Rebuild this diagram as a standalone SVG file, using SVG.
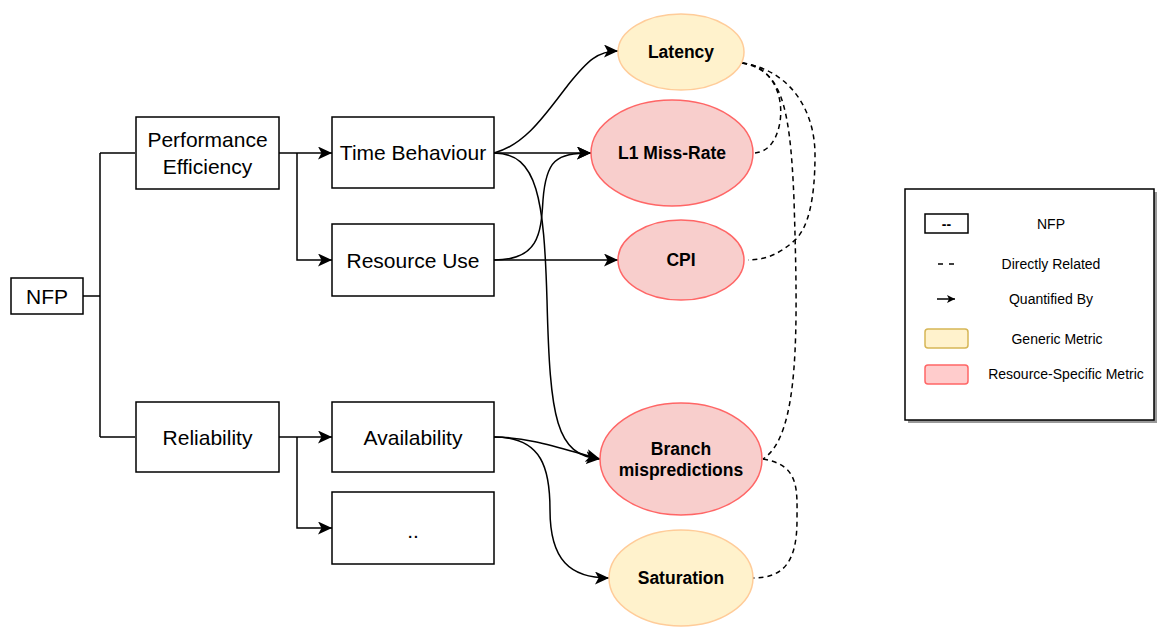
<svg xmlns="http://www.w3.org/2000/svg" width="1159" height="628" viewBox="0 0 1159 628">
<style>
.box{fill:#fff;stroke:#000;stroke-width:1.5}
.t{font-family:"Liberation Sans",Arial,sans-serif;font-size:21px;fill:#000;text-anchor:middle;dominant-baseline:central}
.mt{font-family:"Liberation Sans",Arial,sans-serif;font-size:17.5px;font-weight:bold;fill:#000;text-anchor:middle;dominant-baseline:central}
.lt{font-family:"Liberation Sans",Arial,sans-serif;font-size:14px;fill:#000;text-anchor:middle;dominant-baseline:central}
.gen{fill:#fff2cc;stroke:#ffcc99;stroke-width:1.5}
.res{fill:#f8cecc;stroke:#ff6666;stroke-width:1.5}
.line{fill:none;stroke:#000;stroke-width:1.5}
.arr{fill:none;stroke:#000;stroke-width:1.5;marker-end:url(#ah)}
.dash{fill:none;stroke:#000;stroke-width:1.5;stroke-dasharray:5 4}
</style>
<defs>
<marker id="ah" markerUnits="userSpaceOnUse" markerWidth="15" markerHeight="13" viewBox="0 0 15 13" refX="14" refY="6.5" orient="auto">
<path d="M0,0 L14,6.5 L0,13 L3.5,6.5 Z" fill="#000"/>
</marker>
<marker id="ahs" markerUnits="userSpaceOnUse" markerWidth="8" markerHeight="8" viewBox="0 0 8 8" refX="8" refY="4" orient="auto">
<path d="M0,0 L8,4 L0,8 L2,4 Z" fill="#000"/>
</marker>
</defs>
<rect width="1159" height="628" fill="#fff"/>

<g id="connectors">
<path class="line" d="M83 296 H100 M100 153 V437 M100 153 H135 M100 437 H135"/>
<path class="arr" d="M279 153 H332"/>
<path class="arr" d="M297 153 V260 H332"/>
<path class="arr" d="M279 437 H332"/>
<path class="arr" d="M297 437 V528 H332"/>
<path class="arr" d="M494 153 C525 145 545 115 568 85 C588 60 598 51 618 51"/>
<path class="arr" d="M494 153 H591"/>
<path class="arr" d="M494 153 C538 153 544 200 547 300 C550 420 556 455 600 459"/>
<path class="arr" d="M494 260 C538 260 541 235 543 200 C546 160 556 153 591 153"/>
<path class="arr" d="M494 260 H618"/>
<path class="arr" d="M494 437 C530 437 565 450 600 459"/>
<path class="arr" d="M494 437 C543 437 550 470 550 510 C550 560 570 578 609 578"/>
<path class="dash" d="M742 63 C772 66 784 95 780 122 C776 145 765 152 755 153"/>
<path class="dash" d="M742 63 C790 70 815 110 815 155 C815 200 808 228 795 240 C780 254 765 260 748 260"/>
<path class="dash" d="M742 63 C780 70 790 100 794 200 C798 330 800 435 763 459"/>
<path class="dash" d="M763 459 C800 465 797 490 797 520 C797 560 785 578 753 578"/>
</g>

<g id="nfp"><rect class="box" x="11" y="278" width="72" height="36"/><text class="t" x="47" y="296">NFP</text></g>
<g id="perf"><rect class="box" x="136" y="117" width="143" height="72"/><text class="t" x="207.5" y="139">Performance</text><text class="t" x="207.5" y="166">Efficiency</text></g>
<g id="reliability"><rect class="box" x="136" y="402" width="143" height="70"/><text class="t" x="207.5" y="437">Reliability</text></g>
<g id="time"><rect class="box" x="332" y="117" width="162" height="71"/><text class="t" x="413" y="152">Time Behaviour</text></g>
<g id="resource"><rect class="box" x="332" y="224" width="162" height="72"/><text class="t" x="413" y="260">Resource Use</text></g>
<g id="availability"><rect class="box" x="332" y="402" width="162" height="70"/><text class="t" x="413" y="437">Availability</text></g>
<g id="dots"><rect class="box" x="332" y="492" width="162" height="72"/><text class="t" x="413" y="530">..</text></g>

<g id="latency"><ellipse class="gen" cx="681" cy="52" rx="63" ry="38"/><text class="mt" x="681" y="52">Latency</text></g>
<g id="l1"><ellipse class="res" cx="672" cy="153" rx="81" ry="53"/><text class="mt" x="672" y="153">L1 Miss-Rate</text></g>
<g id="cpi"><ellipse class="res" cx="681" cy="260" rx="63" ry="40"/><text class="mt" x="681" y="260">CPI</text></g>
<g id="branch"><ellipse class="res" cx="681" cy="459" rx="81" ry="56"/><text class="mt" x="681" y="449">Branch</text><text class="mt" x="681" y="470">mispredictions</text></g>
<g id="saturation"><ellipse class="gen" cx="681" cy="578" rx="72" ry="48"/><text class="mt" x="681" y="578">Saturation</text></g>

<g id="legend">
<rect x="908" y="192" width="249" height="231" fill="#999"/>
<rect x="905" y="189" width="249" height="231" fill="#fff" stroke="#000" stroke-width="1.5"/>
<rect x="925" y="214" width="43" height="19" fill="#fff" stroke="#000" stroke-width="1.5"/>
<text class="lt" x="946.5" y="224" font-weight="bold">--</text>
<text class="lt" x="1051" y="224">NFP</text>
<path d="M938 264 H943 M949 264 H954" stroke="#000" stroke-width="1.5"/>
<text class="lt" x="1051" y="264">Directly Related</text>
<path d="M937 299 H955" stroke="#000" stroke-width="1.5" marker-end="url(#ahs)"/>
<text class="lt" x="1051" y="299">Quantified By</text>
<rect x="925" y="329" width="43" height="19" rx="3" fill="#fff2cc" stroke="#d6b656" stroke-width="1.5"/>
<text class="lt" x="1057" y="339">Generic Metric</text>
<rect x="925" y="365" width="43" height="19" rx="3" fill="#ffcccc" stroke="#ff6666" stroke-width="1.5"/>
<text class="lt" x="1066" y="374">Resource-Specific Metric</text>
</g>
</svg>
